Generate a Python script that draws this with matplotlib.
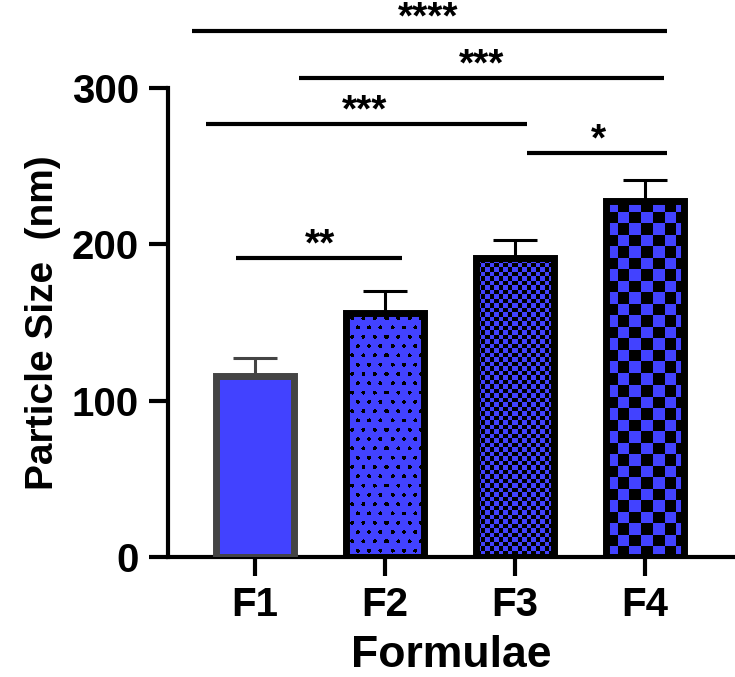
import numpy as np
import matplotlib
matplotlib.use("Agg")
import matplotlib.pyplot as plt

plt.rcParams['font.family'] = ['Liberation Sans', 'DejaVu Sans']
plt.rcParams['font.weight'] = 'bold'

# data
formulae = ["F1", "F2", "F3", "F4"]
mean_size = [116, 156, 191, 228]
sd_size = [11, 14, 12, 13]
patterns = ["solid", "dots", "fine_check", "big_check"]

# significance brackets: x start, x end, line y, star label, star x
sig_x0 = [-0.485, 0.338, -0.377, 2.09, -0.146]
sig_x1 = [3.17, 3.146, 2.09, 3.17, 1.13]
sig_y = [336.5, 306.4, 277, 258.4, 191.3]
sig_text = ["****", "***", "***", "*", "**"]
sig_tx = [1.33, 1.74, 0.846, 2.64, 0.5]

blue = '#4242ff'
edge_cols = ['#444444', 'black', 'black', 'black']


def make_pattern(kind, w, h):
    img = np.zeros((h, w, 4))
    yy, xx = np.mgrid[0:h, 0:w]
    if kind == "fine_check":
        s = 4.5
        mask = ((xx // s).astype(int) + (yy // s).astype(int)) % 2 == 1
    elif kind == "big_check":
        s = 11.5
        mask = ((xx // s).astype(int) + (yy // s).astype(int)) % 2 == 1
    elif kind == "dots":
        dx, dy = 11.3, 9.3
        row = np.floor(yy / dy)
        cy = (row + 0.5) * dy
        off = (row % 2) * dx / 2
        cx = np.floor((xx - off) / dx) * dx + dx / 2 + off
        mask = (xx - cx) ** 2 + (yy - cy) ** 2 <= 2.0 ** 2
    else:
        mask = np.zeros((h, w), bool)
    img[mask] = [0, 0, 0, 1]
    return img


fig = plt.figure(figsize=(7.35, 6.77), dpi=100)
ax = fig.add_axes([168 / 735, 120 / 677, 1 - 168 / 735, 469 / 677])

x = np.arange(len(formulae))
width = 0.6
ax.set_xlim(-0.669, 3.69)
ax.set_ylim(0, 300)

bars = ax.bar(x, mean_size, width, color=blue, edgecolor='none', zorder=2)
for i, b in enumerate(bars):
    if patterns[i] == "solid":
        continue
    x0, x1 = x[i] - width / 2, x[i] + width / 2
    p0 = ax.transData.transform((x0, 0))
    p1 = ax.transData.transform((x1, mean_size[i]))
    w = int(round(p1[0] - p0[0]))
    h = int(round(p1[1] - p0[1]))
    im = ax.imshow(make_pattern(patterns[i], w, h), extent=(x0, x1, 0, mean_size[i]),
                   aspect='auto', interpolation='nearest', zorder=2.5)
    im.set_clip_path(b)
ax.bar(x, mean_size, width, fill=False, edgecolor=edge_cols, linewidth=5, zorder=3)

for i in range(len(x)):
    ax.errorbar(x[i], mean_size[i], yerr=[[0], [sd_size[i]]], fmt='none',
                ecolor=edge_cols[i], elinewidth=2.2, capsize=16, capthick=2.2, zorder=1.5)

ax.set_xlim(-0.669, 3.69)
ax.set_ylim(0, 300)

for x0, x1, y, t, tx in zip(sig_x0, sig_x1, sig_y, sig_text, sig_tx):
    ax.plot([x0, x1], [y, y], color='black', lw=3, clip_on=False, solid_capstyle='butt')
    ax.text(tx, y + 1.5, t, ha='center', va='baseline', fontsize=28, fontweight='bold',
            clip_on=False)

ax.spines['top'].set_visible(False)
ax.spines['right'].set_visible(False)
ax.spines['left'].set_linewidth(3)
ax.spines['bottom'].set_linewidth(3)

ax.set_yticks([0, 100, 200, 300])
ax.set_xticks(x)
ax.set_xticklabels(formulae)
ax.tick_params(axis='both', width=3, length=14, labelsize=29, pad=7)

ax.set_xlabel("Formulae", fontsize=32, fontweight='bold', labelpad=8)
ax.set_ylabel("Particle Size  (nm)", fontsize=28, fontweight='bold', labelpad=8)

fig.savefig("out.png", dpi=100)
